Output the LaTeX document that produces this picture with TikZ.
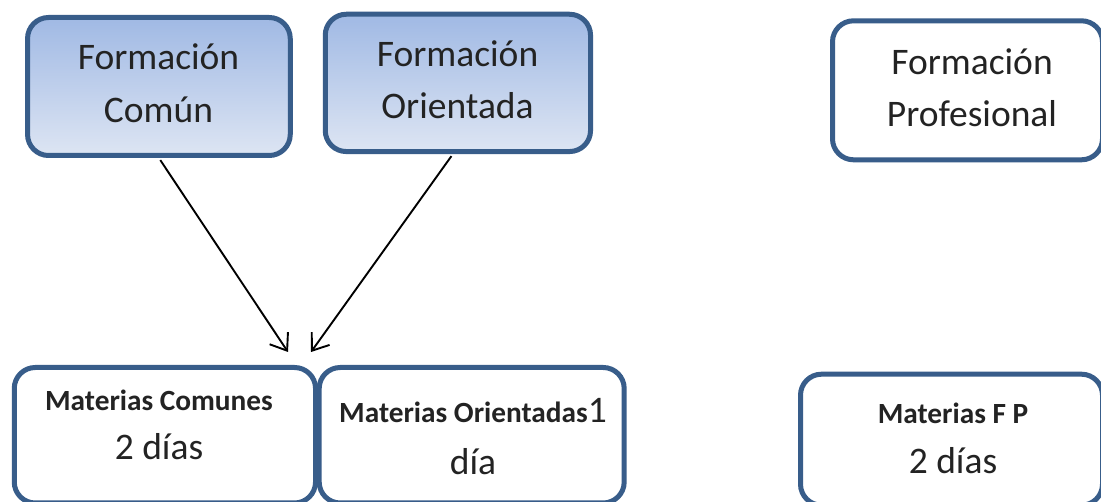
\documentclass[tikz,border=0pt]{standalone}
\usepackage{fontspec}
\setmainfont{Carlito}
\usetikzlibrary{arrows.meta}
\definecolor{bordc}{RGB}{56,93,138}
\definecolor{gtop}{RGB}{160,185,228}
\definecolor{gbot}{RGB}{221,229,243}
\definecolor{txtc}{RGB}{35,35,35}
\tikzset{
  boxc/.style={draw=bordc, line width=5pt, rounded corners=21pt, inner sep=0pt},
  gradbox/.style={boxc, top color=gtop, bottom color=gbot},
  plainbox/.style={boxc, fill=white},
  big/.style={anchor=base, inner sep=0pt, text=txtc, font=\fontsize{37.5}{37.5}\selectfont},
  small/.style={anchor=base, inner sep=0pt, text=txtc, font=\fontsize{29.3}{29.3}\selectfont\bfseries},
  arr/.style={line width=1.9pt, -{Straight Barb[length=15pt,width=22pt]}, shorten <=2.5pt}
}
\begin{document}
\begin{tikzpicture}[x=1pt,y=-1pt]
\useasboundingbox (0,0) rectangle (1101,502);
\fill[white] (0,0) rectangle (1101,502);
\begin{scope}
\clip (0,0) rectangle (1101,502);
% top boxes
\node[gradbox, minimum width=262.7pt, minimum height=138pt] (fc) at (158.9,86.5) {};
\node[gradbox, minimum width=265.3pt, minimum height=137.3pt] (fo) at (457.9,82.9) {};
\node[plainbox, minimum width=270pt, minimum height=139pt] (fp) at (967.5,90.3) {};
% bottom boxes
\node[plainbox, minimum width=301.3pt, minimum height=135.5pt] (mc) at (164.9,435.25) {};
\node[plainbox, minimum width=305pt, minimum height=135.5pt] (mo) at (471.7,435.25) {};
\node[plainbox, minimum width=302pt, minimum height=131pt] (mf) at (951.5,439.7) {};
% texts
\node[big] (fc1) at (158.5,70) {Formación};
\node[big] (fc2) at (158.5,123) {Común};
\node[big] (fo1) at (457.5,66.7) {Formación};
\node[big] (fo2) at (457.5,119) {Orientada};
\node[big] (fp1) at (972,75) {Formación};
\node[big] (fp2) at (972,127) {Profesional};
\node[small] (mc1) at (159,411) {Materias Comunes};
\node[big] (mc2) at (159,460) {2 días};
\node[small] (mo1) at (473,422.7) {Materias Orientadas\fontsize{37.5}{37.5}\selectfont\mdseries 1};
\node[big] (mo2) at (473,475) {día};
\node[small] (mf1) at (953,424) {Materias F P};
\node[big] (mf2) at (953,474) {2 días};
% arrows
\coordinate (t1) at (288,352);
\coordinate (t2) at (311,352);
\draw[arr] (fc.south) -- (t1);
\draw[arr] ([xshift=-5pt]fo.south) -- (t2);
\end{scope}
\end{tikzpicture}
\end{document}
